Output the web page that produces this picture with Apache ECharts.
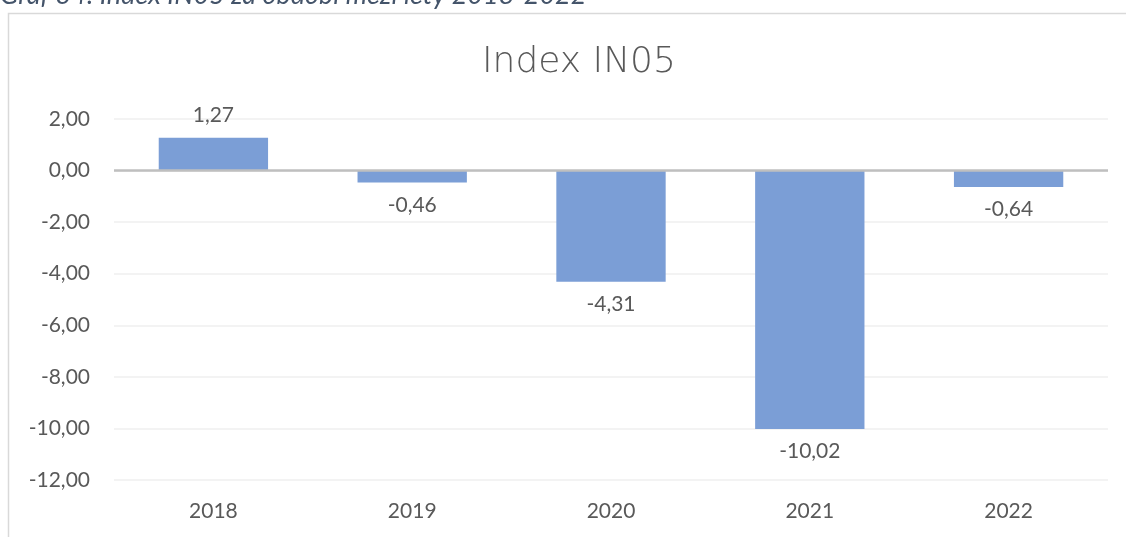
<!DOCTYPE html>
<html>
<head>
<meta charset="utf-8">
<script src="https://cdn.jsdelivr.net/npm/echarts@6/dist/echarts.min.js"></script>
<style>
  html, body { margin: 0; padding: 0; background: #fff; }
  #main { width: 1126px; height: 537px; }
</style>
</head>
<body>
<div id="main"></div>
<script>
// data
var years = ['2018', '2019', '2020', '2021', '2022'];
var in05Values = [1.27, -0.46, -4.31, -10.02, -0.64];
var yTicks = { min: -12, max: 2, step: 2 };

function czNum(v, digits) {
  return v.toFixed(digits).replace('.', ',');
}

var textColor = '#595959';
var fontFam = 'Lato, "Open Sans", sans-serif';

var myChart = echarts.init(document.getElementById('main'));
myChart.setOption({
  animation: false,
  backgroundColor: '#fff',
  title: {
    text: 'Index IN05',
    left: 477,
    top: 40,
    textStyle: { color: textColor, fontSize: 36, fontWeight: 200, fontFamily: '"DejaVu Sans", sans-serif' }
  },
  graphic: [
    {
      type: 'text',
      left: 0,
      top: -18,
      style: {
        text: 'Graf 34: Index IN05 za období mezi lety 2018-2022',
        fill: '#44546a',
        font: 'italic 27px Lato, "Open Sans", sans-serif'
      }
    },
    {
      type: 'rect',
      shape: { x: 8.5, y: 13.5, width: 1130, height: 540 },
      style: { fill: 'none', stroke: '#d9d9d9', lineWidth: 1.5 },
      z: -1
    }
  ],
  grid: { left: 114, right: 18, top: 119, bottom: 57 },
  xAxis: {
    type: 'category',
    data: years,
    position: 'bottom',
    axisLine: { show: false },
    axisTick: { show: false },
    axisLabel: { color: textColor, fontSize: 21, fontFamily: fontFam, margin: 21 }
  },
  yAxis: {
    type: 'value',
    min: yTicks.min,
    max: yTicks.max,
    interval: yTicks.step,
    axisLine: { show: false },
    axisTick: { show: false },
    splitLine: { lineStyle: { color: '#efefef', width: 1.5 } },
    axisLabel: {
      color: textColor, fontSize: 21, fontFamily: fontFam, margin: 24,
      formatter: function (v) { return czNum(v, 2); }
    }
  },
  series: [
    {
      type: 'bar',
      data: in05Values,
      barWidth: '55%',
      itemStyle: { color: '#7b9ed6' },
      label: {
        show: true,
        position: 'outside',
        distance: 12,
        color: textColor,
        fontSize: 21,
        fontFamily: fontFam,
        formatter: function (p) { return czNum(p.value, 2); }
      },
      markLine: {
        silent: true,
        symbol: 'none',
        label: { show: false },
        lineStyle: { color: '#bfbfbf', width: 2.5, type: 'solid' },
        data: [{ yAxis: 0 }]
      }
    }
  ]
});
</script>
</body>
</html>
